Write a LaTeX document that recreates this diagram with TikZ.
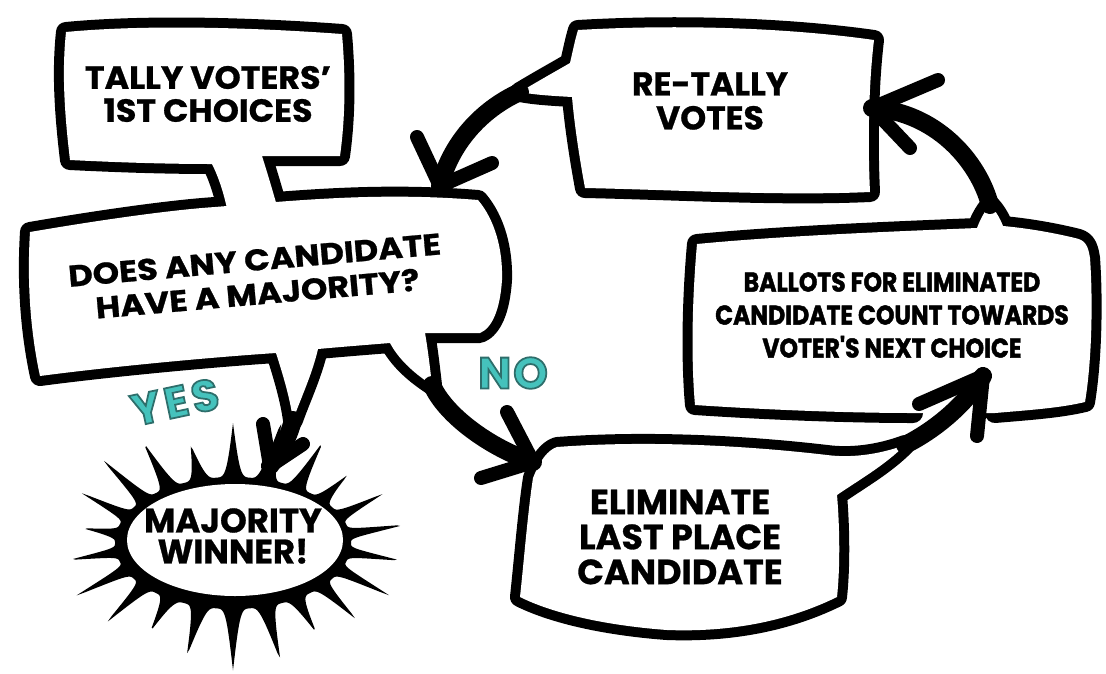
\documentclass[tikz,border=0pt]{standalone}
\usepackage{fontspec}
\setmainfont{Poppins}[BoldFeatures={FakeBold=0.8}]
\newfontfamily\heavyfont{Poppins}[BoldFeatures={FakeBold=1.8}]
\newfontfamily\ynfont{Poppins}[FakeBold=4]
\definecolor{tealf}{HTML}{45C2BC}
\definecolor{tealdk}{HTML}{2E6E6B}
\tikzset{
  outl/.style={draw=black, line width=20pt, line join=round, line cap=round},
  stemline/.style={draw=black, line width=18pt, line cap=round},
  barbline/.style={draw=black, line width=14pt, line cap=round},
  lbl/.style={inner sep=0pt, align=center, text=black, font=\bfseries},
  yn/.style={inner sep=0pt, text=tealf, font=\ynfont\bfseries\fontsize{44pt}{44pt}\selectfont},
}
\newcommand\ynoutline{\special{pdf:literal direct 0.180 0.431 0.420 RG}}
\def\tallyP{(70,160) .. controls (64,110) and (62,70) .. (66,32)
  .. controls (150,24) and (260,28) .. (342,34)
  .. controls (346,80) and (345,120) .. (340,156)
  .. controls (310,156) and (285,156) .. (262,156)
  .. controls (268,175) and (274,195) .. (282,224)
  -- (230,224)
  .. controls (226,200) and (220,180) .. (212,164)
  .. controls (160,164) and (110,162) .. (70,160) -- cycle}
\def\doesP{(30,232) .. controls (100,220) and (170,210) .. (215,207)
  .. controls (300,200) and (380,192) .. (478,200)
  .. controls (495,220) and (503,250) .. (502,280)
  .. controls (500,310) and (492,328) .. (480,333)
  -- (425,333)
  .. controls (428,350) and (430,368) .. (432,385)
  .. controls (412,372) and (398,358) .. (390,343)
  .. controls (365,345) and (340,347) .. (318,349)
  .. controls (312,375) and (300,400) .. (293,420)
  .. controls (290,398) and (283,375) .. (276,353)
  .. controls (200,358) and (100,368) .. (40,376)
  .. controls (30,330) and (27,280) .. (30,232) -- cycle}
\begin{document}
\begin{tikzpicture}[x=1pt,y=-1pt]
\useasboundingbox[fill=white] (0,0) rectangle (1106,673);
% group: tally + question
\draw[outl] \tallyP;
\draw[outl] \doesP;
\fill[white] \tallyP;
\fill[white] \doesP;
% re-tally box
\path[outl, postaction={fill=white}] (585,188) .. controls (578,150) and (574,120) .. (572,97)
  .. controls (555,96) and (535,95) .. (520,92)
  .. controls (540,80) and (558,70) .. (570,63)
  .. controls (573,50) and (575,40) .. (578,30)
  .. controls (680,24) and (790,28) .. (874,40)
  .. controls (868,90) and (868,150) .. (870,192)
  .. controls (780,196) and (680,190) .. (585,188) -- cycle;
% ballots box
\path[outl, postaction={fill=white}] (995,413) .. controls (1030,410) and (1060,408) .. (1085,402)
  .. controls (1092,360) and (1093,300) .. (1090,258)
  .. controls (1088,245) and (1085,240) .. (1075,238)
  .. controls (1050,232) and (1025,228) .. (1003,226)
  .. controls (1000,218) and (995,210) .. (990,205)
  .. controls (984,212) and (980,220) .. (977,228)
  .. controls (880,232) and (780,236) .. (697,244)
  .. controls (692,300) and (691,360) .. (695,405)
  .. controls (770,410) and (850,413) .. (913,413);
% eliminate box
\path[outl, postaction={fill=white}] (533,478) .. controls (540,460) and (548,450) .. (557,447)
  .. controls (650,440) and (750,446) .. (827,455)
  .. controls (850,458) and (878,455) .. (905,445)
  .. controls (885,465) and (862,478) .. (837,495)
  .. controls (840,530) and (840,570) .. (837,597)
  .. controls (780,625) and (720,632) .. (667,630)
  .. controls (600,625) and (550,612) .. (520,597)
  .. controls (524,560) and (528,510) .. (533,478) -- cycle;
% starburst
\fill[black] plot[domain=0:360, samples=721, variable=\t]
  ({233+(118+50*(0.65+0.45*abs(sin(2.7*\t+35)))*pow(1-abs(mod(\t,16.3636)/8.1818-1),3.5))*cos(\t)},
   {543+(66+56*(0.65+0.45*abs(sin(2.7*\t+35)))*pow(1-abs(mod(\t,16.3636)/8.1818-1),3.5))*sin(\t)}) -- cycle;
\fill[white] (235,540) ellipse [x radius=108, y radius=56];
% connector coordinates
\coordinate (Pyes) at (293,420); \coordinate (Tyes) at (270,466);
\coordinate (Pno) at (432,385);  \coordinate (Tno) at (533,462);
\coordinate (Prt) at (520,92);   \coordinate (Trt) at (440,186);
\coordinate (Pb) at (990,205);   \coordinate (Tb) at (872,108);
\coordinate (Pe) at (905,445);   \coordinate (Te) at (983,376);
% stems
\draw[stemline] (Pyes) .. controls (288,440) and (278,455) .. (Tyes);
\draw[stemline] (Pno) .. controls (445,415) and (490,448) .. (Tno);
\draw[stemline] (Prt) .. controls (480,110) and (450,145) .. (Trt);
\draw[stemline] (Pb) .. controls (978,160) and (935,112) .. (Tb);
\draw[stemline] (Pe) .. controls (935,430) and (965,405) .. (Te);
% barbs
\draw[barbline] (Tyes) -- +(-7,-42);
\draw[barbline] (Tyes) -- +(33,-22);
\draw[barbline] (Tno) -- +(-26,-50);
\draw[barbline] (Tno) -- +(-52,16);
\draw[barbline] (Trt) -- +(-23,-49);
\draw[barbline] (Trt) -- +(52,-23);
\draw[barbline] (Tb) -- +(66,-28);
\draw[barbline] (Tb) -- +(38,40);
\draw[barbline] (Te) -- +(-64,28);
\draw[barbline] (Te) -- +(-6,60);
% texts
\node[lbl, font=\bfseries\fontsize{32pt}{33pt}\selectfont, xscale=1.04, transform shape] (tally) at (208,94) {TALLY VOTERS'\\1ST CHOICES};
\node[lbl, font=\bfseries\fontsize{30pt}{34pt}\selectfont, rotate=5, xscale=1.12, transform shape] (does) at (256,277) {DOES ANY CANDIDATE\\HAVE A MAJORITY?};
\node[lbl, font=\bfseries\fontsize{33pt}{34pt}\selectfont] (retally) at (710,101) {RE-TALLY\\VOTES};
\node[lbl, font=\heavyfont\bfseries\fontsize{27pt}{33pt}\selectfont, xscale=0.87, transform shape] (ballots) at (892,315) {BALLOTS FOR ELIMINATED\\CANDIDATE COUNT TOWARDS\\VOTER'S NEXT CHOICE};
\node[lbl, font=\bfseries\fontsize{35pt}{35pt}\selectfont] (elim) at (680,537) {ELIMINATE\\LAST PLACE\\CANDIDATE};
\node[lbl, font=\bfseries\fontsize{34pt}{31pt}\selectfont] (winner) at (233,536) {MAJORITY\\WINNER!};
\node[yn, rotate=12] (yes) at (175,402) {\ynoutline Y\kern4pt E\kern4pt S};
\node[yn] (no) at (513,373) {\ynoutline N\kern2pt O};
\end{tikzpicture}
\end{document}
